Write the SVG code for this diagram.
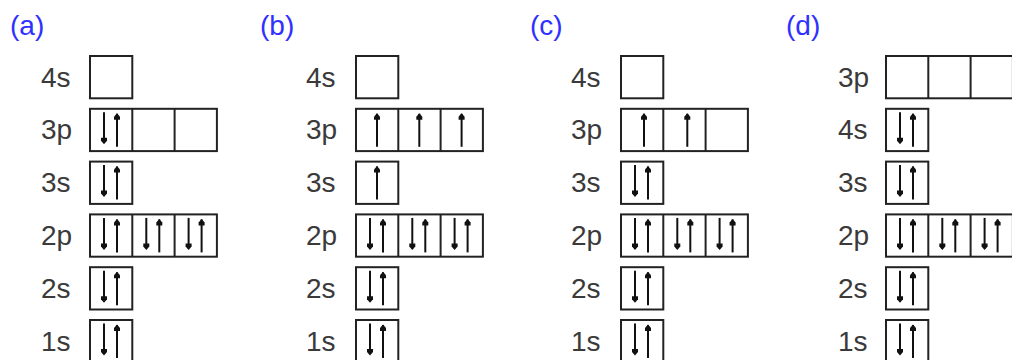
<svg xmlns="http://www.w3.org/2000/svg" xmlns:xlink="http://www.w3.org/1999/xlink" width="1012" height="360" viewBox="0 0 1012 360">
<style>
.lbl{font-family:"Liberation Sans",Arial,sans-serif;font-size:28px;fill:#3a3a3a}
.ttl{font-family:"Liberation Sans",Arial,sans-serif;font-size:28px;fill:#3030ff}
.box{fill:none;stroke:#222;stroke-width:2}
.e line{stroke:#111;stroke-width:2}
.e path{fill:#111}
</style>
<defs>
<g id="dn" class="e"><line x1="0" y1="3.5" x2="0" y2="34"/><path d="M-3,29 h6 v3 l-3,3.5 l-3,-3.5z"/></g>
<g id="up" class="e"><line x1="0" y1="5" x2="0" y2="38"/><path d="M-3,11 h6 v-3 l-3,-3.5 l-3,3.5z"/></g>
<g id="pair"><use xlink:href="#dn" x="14"/><use xlink:href="#up" x="27"/></g>
<g id="one"><use xlink:href="#up" x="21"/></g>
<rect id="c1" class="box" width="42.3" height="42.3"/>
<g id="c3"><rect class="box" width="126.9" height="42.3"/><line class="box" x1="42.3" y1="0" x2="42.3" y2="42.3"/><line class="box" x1="84.6" y1="0" x2="84.6" y2="42.3"/></g>
</defs>
<rect width="1012" height="360" fill="#fff"/>
<g id="connectors"/>

<!-- Panel (a) -->
<g id="panel-a">
<text class="ttl" x="10" y="35">(a)</text>
<g id="a-4s"><text class="lbl" x="41" y="86.5">4s</text><use xlink:href="#c1" x="90" y="56"/></g>
<g id="a-3p"><text class="lbl" x="41" y="139.3">3p</text><use xlink:href="#c3" x="90" y="108.8"/><use xlink:href="#pair" x="90" y="108.8"/></g>
<g id="a-3s"><text class="lbl" x="41" y="192.1">3s</text><use xlink:href="#c1" x="90" y="161.6"/><use xlink:href="#pair" x="90" y="161.6"/></g>
<g id="a-2p"><text class="lbl" x="41" y="244.9">2p</text><use xlink:href="#c3" x="90" y="214.4"/><use xlink:href="#pair" x="90" y="214.4"/><use xlink:href="#pair" x="132.3" y="214.4"/><use xlink:href="#pair" x="174.6" y="214.4"/></g>
<g id="a-2s"><text class="lbl" x="41" y="297.7">2s</text><use xlink:href="#c1" x="90" y="267.2"/><use xlink:href="#pair" x="90" y="267.2"/></g>
<g id="a-1s"><text class="lbl" x="41" y="350.5">1s</text><use xlink:href="#c1" x="90" y="320"/><use xlink:href="#pair" x="90" y="320"/></g>
</g>

<!-- Panel (b) -->
<g id="panel-b">
<text class="ttl" x="260" y="35">(b)</text>
<g id="b-4s"><text class="lbl" x="306" y="86.5">4s</text><use xlink:href="#c1" x="356" y="56"/></g>
<g id="b-3p"><text class="lbl" x="306" y="139.3">3p</text><use xlink:href="#c3" x="356" y="108.8"/><use xlink:href="#one" x="356" y="108.8"/><use xlink:href="#one" x="398.3" y="108.8"/><use xlink:href="#one" x="440.6" y="108.8"/></g>
<g id="b-3s"><text class="lbl" x="306" y="192.1">3s</text><use xlink:href="#c1" x="356" y="161.6"/><use xlink:href="#one" x="356" y="161.6"/></g>
<g id="b-2p"><text class="lbl" x="306" y="244.9">2p</text><use xlink:href="#c3" x="356" y="214.4"/><use xlink:href="#pair" x="356" y="214.4"/><use xlink:href="#pair" x="398.3" y="214.4"/><use xlink:href="#pair" x="440.6" y="214.4"/></g>
<g id="b-2s"><text class="lbl" x="306" y="297.7">2s</text><use xlink:href="#c1" x="356" y="267.2"/><use xlink:href="#pair" x="356" y="267.2"/></g>
<g id="b-1s"><text class="lbl" x="306" y="350.5">1s</text><use xlink:href="#c1" x="356" y="320"/><use xlink:href="#pair" x="356" y="320"/></g>
</g>

<!-- Panel (c) -->
<g id="panel-c">
<text class="ttl" x="530" y="35">(c)</text>
<g id="c-4s"><text class="lbl" x="571" y="86.5">4s</text><use xlink:href="#c1" x="621" y="56"/></g>
<g id="c-3p"><text class="lbl" x="571" y="139.3">3p</text><use xlink:href="#c3" x="621" y="108.8"/><use xlink:href="#one" x="623" y="108.8"/><use xlink:href="#one" x="666.3" y="108.8"/></g>
<g id="c-3s"><text class="lbl" x="571" y="192.1">3s</text><use xlink:href="#c1" x="621" y="161.6"/><use xlink:href="#pair" x="621" y="161.6"/></g>
<g id="c-2p"><text class="lbl" x="571" y="244.9">2p</text><use xlink:href="#c3" x="621" y="214.4"/><use xlink:href="#pair" x="621" y="214.4"/><use xlink:href="#pair" x="663.3" y="214.4"/><use xlink:href="#pair" x="705.6" y="214.4"/></g>
<g id="c-2s"><text class="lbl" x="571" y="297.7">2s</text><use xlink:href="#c1" x="621" y="267.2"/><use xlink:href="#pair" x="621" y="267.2"/></g>
<g id="c-1s"><text class="lbl" x="571" y="350.5">1s</text><use xlink:href="#c1" x="621" y="320"/><use xlink:href="#pair" x="621" y="320"/></g>
</g>

<!-- Panel (d) -->
<g id="panel-d">
<text class="ttl" x="786" y="35">(d)</text>
<g id="d-3p"><text class="lbl" x="838" y="86.5">3p</text><use xlink:href="#c3" x="886" y="56"/></g>
<g id="d-4s"><text class="lbl" x="838" y="139.3">4s</text><use xlink:href="#c1" x="886" y="108.8"/><use xlink:href="#pair" x="886" y="108.8"/></g>
<g id="d-3s"><text class="lbl" x="838" y="192.1">3s</text><use xlink:href="#c1" x="886" y="161.6"/><use xlink:href="#pair" x="886" y="161.6"/></g>
<g id="d-2p"><text class="lbl" x="838" y="244.9">2p</text><use xlink:href="#c3" x="886" y="214.4"/><use xlink:href="#pair" x="886" y="214.4"/><use xlink:href="#pair" x="928.3" y="214.4"/><use xlink:href="#pair" x="970.6" y="214.4"/></g>
<g id="d-2s"><text class="lbl" x="838" y="297.7">2s</text><use xlink:href="#c1" x="886" y="267.2"/><use xlink:href="#pair" x="886" y="267.2"/></g>
<g id="d-1s"><text class="lbl" x="838" y="350.5">1s</text><use xlink:href="#c1" x="886" y="320"/><use xlink:href="#pair" x="886" y="320"/></g>
</g>
</svg>
